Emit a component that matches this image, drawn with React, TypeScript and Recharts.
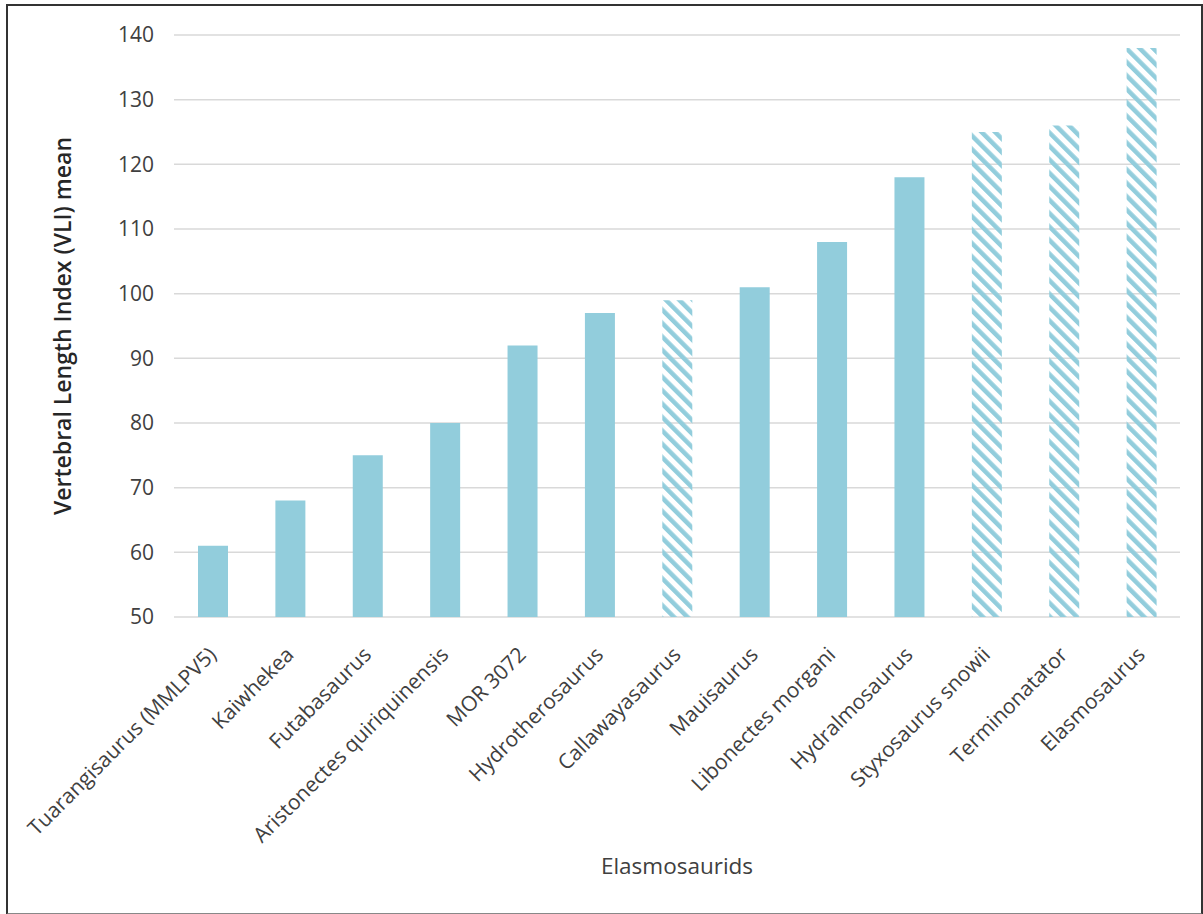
import React from "react";
import { BarChart, Bar, XAxis, YAxis, CartesianGrid, Cell } from "recharts";

const categories = [
  "Tuarangisaurus (MMLPV5)",
  "Kaiwhekea",
  "Futabasaurus",
  "Aristonectes quiriquinensis",
  "MOR 3072",
  "Hydrotherosaurus",
  "Callawayasaurus",
  "Mauisaurus",
  "Libonectes morgani",
  "Hydralmosaurus",
  "Styxosaurus snowii",
  "Terminonatator",
  "Elasmosaurus",
];
const vliMean = [61, 68, 75, 80, 92, 97, 99, 101, 108, 118, 125, 126, 138];
const hatched = [false, false, false, false, false, false, true, false, false, false, true, true, true];
const yTicks = [50, 60, 70, 80, 90, 100, 110, 120, 130, 140];

const data = categories.map((name, i) => ({ name, value: vliMean[i], hatched: hatched[i] }));

const FONT = "'Open Sans', 'Noto Sans', sans-serif";
const BAR = "#92CDDC";
const TEXT = "#404040";

const XTick = (props: any) => {
  const { x, y, payload } = props;
  return (
    <g transform={`translate(${x},${y})`}>
      <text
        x={0}
        y={0}
        transform={`translate(5,31) rotate(-45)`}
        textAnchor="end"
        fill={TEXT}
        fontSize={21}
        fontFamily={FONT}
      >
        {payload.value}
      </text>
    </g>
  );
};

export default function App() {
  return (
    <div style={{ position: "absolute", left: 0, top: 0, width: 1203, height: 914, background: "#fff" }}>
      <div
        style={{
          position: "absolute",
          left: 6,
          top: 4,
          width: 1193,
          height: 907,
          border: "2px solid #333",
          borderBottomColor: "#888",
          boxSizing: "content-box",
        }}
      />
      <div style={{ position: "absolute", left: 0, top: 0 }}>
        <BarChart
          width={1203}
          height={914}
          data={data}
          margin={{ top: 35, right: 23, bottom: 0, left: 0 }}
        >
          <defs>
            <pattern
              id="hatch"
              patternUnits="userSpaceOnUse"
              width={9.5}
              height={9.5}
              patternTransform="rotate(-45)"
            >
              <rect x={0} y={0} width={4.5} height={9.5} fill={BAR} />
            </pattern>
          </defs>
          <CartesianGrid vertical={false} stroke="#d9d9d9" strokeWidth={1.5} />
          <XAxis
            dataKey="name"
            height={297}
            interval={0}
            axisLine={false}
            tickLine={false}
            tick={<XTick />}
            label={{
              content: (p: any) => {
                const vb = p.viewBox || {};
                const cx = vb.x + vb.width / 2;
                return (
                  <text
                    x={cx}
                    y={865}
                    textAnchor="middle"
                    dominantBaseline="central"
                    fill={TEXT}
                    fontSize={22.5}
                    fontFamily={FONT}
                  >
                    Elasmosaurids
                  </text>
                );
              },
            }}
          />
          <YAxis
            width={174}
            domain={[50, 140]}
            ticks={yTicks}
            interval={0}
            axisLine={false}
            tickLine={false}
            tickMargin={14}
            tick={{ fill: TEXT, fontSize: 21, fontFamily: FONT }}
            label={{
              content: (p: any) => {
                const vb = p.viewBox || {};
                const cx = 62;
                const cy = vb.y + vb.height / 2;
                return (
                  <text
                    x={cx}
                    y={cy}
                    transform={`rotate(-90 ${cx} ${cy})`}
                    textAnchor="middle"
                    dominantBaseline="central"
                    fill="#262626"
                    fontSize={23}
                    fontWeight={600}
                    fontFamily={FONT}
                  >
                    Vertebral Length Index (VLI) mean
                  </text>
                );
              },
            }}
          />
          <Bar dataKey="value" barSize={30} isAnimationActive={false}>
            {data.map((d, i) => (
              <Cell key={i} fill={d.hatched ? "url(#hatch)" : BAR} />
            ))}
          </Bar>
        </BarChart>
      </div>
    </div>
  );
}
